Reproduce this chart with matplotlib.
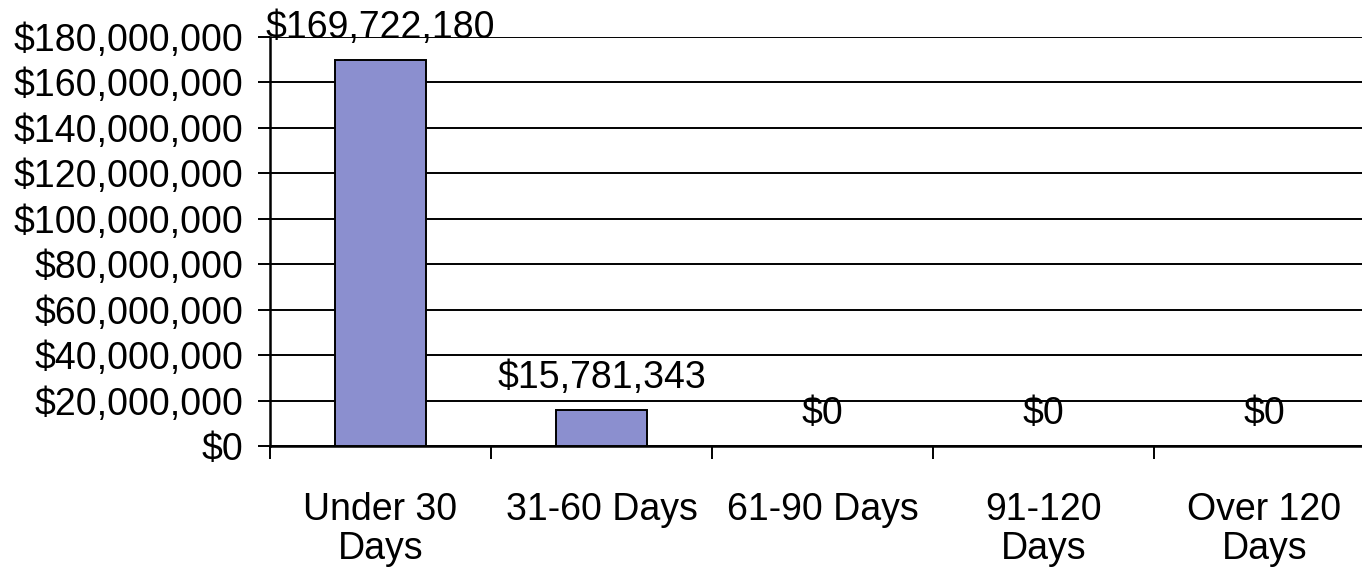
import matplotlib
matplotlib.use("Agg")
import matplotlib.pyplot as plt
from matplotlib.ticker import FuncFormatter, MultipleLocator

plt.rcParams['font.family'] = ['Liberation Sans', 'DejaVu Sans']

categories = ["Under 30\nDays", "31-60 Days", "61-90 Days", "91-120\nDays", "Over 120\nDays"]
amounts = [169722180, 15781343, 0, 0, 0]

FS = 27

fig = plt.figure(figsize=(13.62, 5.69), dpi=100)
ax = fig.add_axes([270 / 1362, 123 / 569, 1105 / 1362, 409 / 569])

x = list(range(len(categories)))
ax.bar(x, amounts, width=0.41, color="#8B8FCF", edgecolor="black", linewidth=1.4, zorder=3)

ax.set_xlim(-0.5, len(categories) - 0.5)
ax.set_ylim(0, 180000000)
ax.yaxis.set_major_locator(MultipleLocator(20000000))
ax.yaxis.set_major_formatter(FuncFormatter(lambda v, p: f"${v:,.0f}"))
ax.grid(axis="y", color="black", linewidth=1.4, zorder=0)

# category boundaries as tick marks, names centred between them
ax.set_xticks([i - 0.5 for i in x] + [len(categories) - 0.5])
ax.set_xticklabels([])
ax.set_xticks(x, minor=True)
ax.set_xticklabels(categories, minor=True, fontsize=FS, linespacing=1.1)
ax.tick_params(axis="x", which="minor", length=0, pad=33)
ax.tick_params(axis="x", which="major", length=9, width=1.4, direction="out")
ax.tick_params(axis="y", length=9, width=1.4, direction="out", labelsize=FS, pad=10)

for s in ["top", "right"]:
    ax.spines[s].set_visible(False)
ax.spines["left"].set_linewidth(1.8)
ax.spines["bottom"].set_linewidth(1.8)

for xi, v in zip(x, amounts):
    ax.annotate(f"${v:,.0f}", (xi, v), xytext=(0, 16), textcoords="offset points",
                ha="center", va="baseline", fontsize=FS, clip_on=False)

fig.savefig("out.png", dpi=100)
